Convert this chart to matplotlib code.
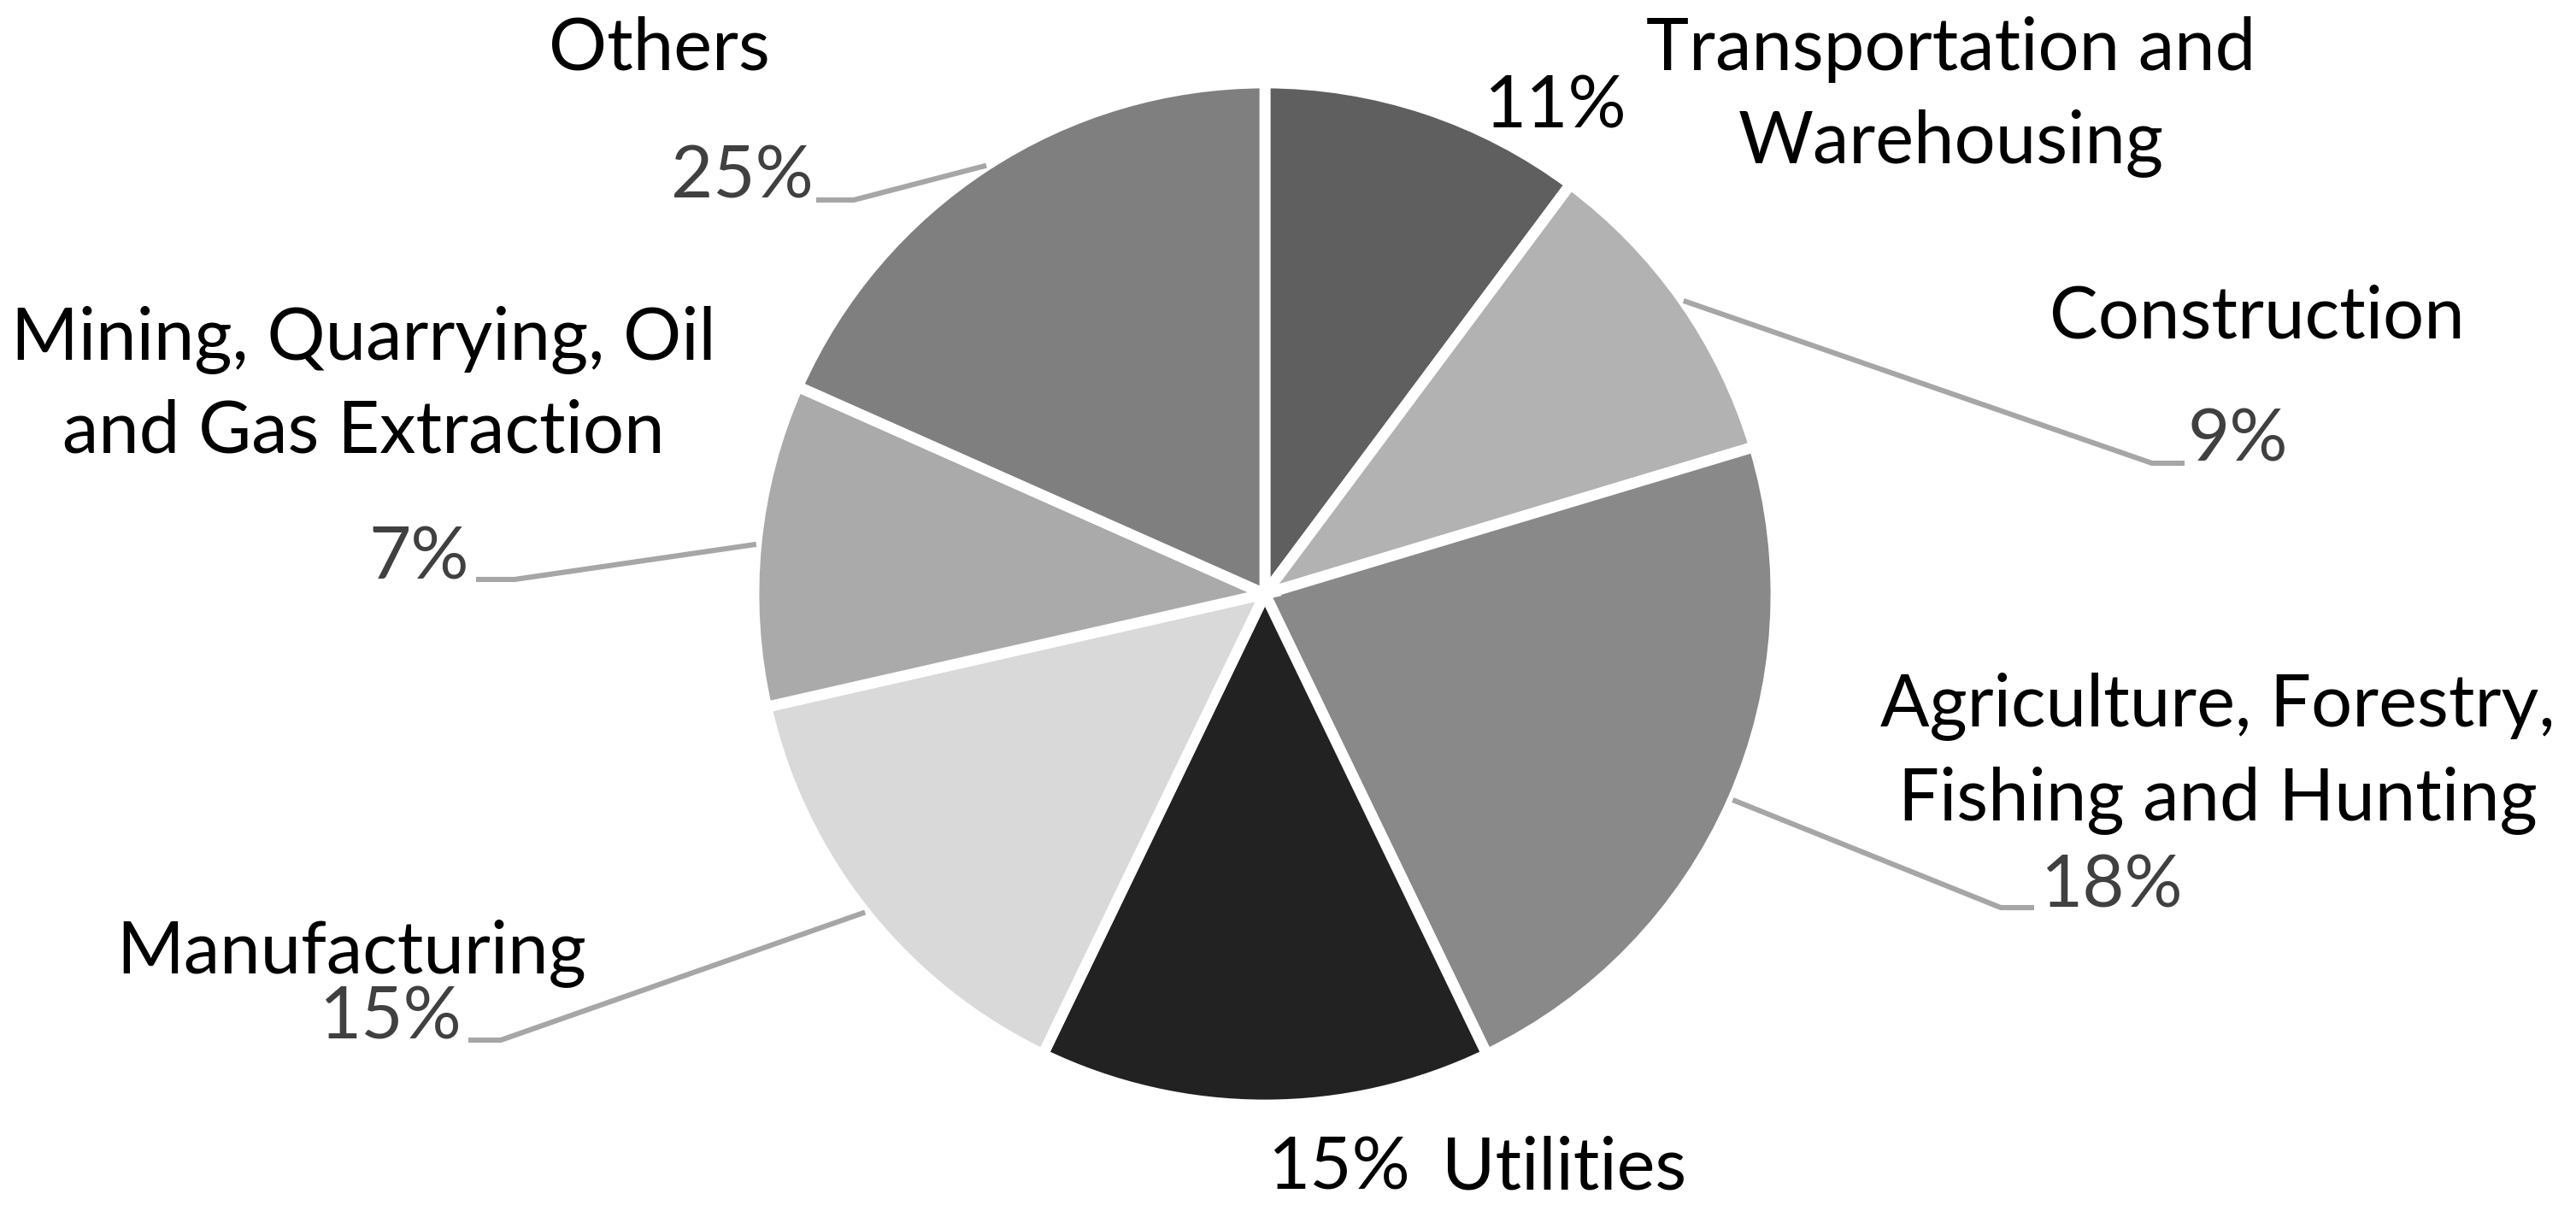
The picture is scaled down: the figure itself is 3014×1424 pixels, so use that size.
import numpy as np
import matplotlib
matplotlib.use("Agg")
import matplotlib.pyplot as plt

plt.rcParams['font.family'] = ['Lato', 'DejaVu Sans']

# ---- data ----
categories = ["Transportation and\nWarehousing", "Construction",
              "Agriculture, Forestry,\nFishing and Hunting", "Utilities",
              "Manufacturing", "Mining, Quarrying, Oil\nand Gas Extraction", "Others"]
slice_sizes = [10.2, 10.15, 22.5, 14.3, 14.3, 10.2, 18.35]   # drawn slice sizes
pct_labels = ["11%", "9%", "18%", "15%", "15%", "7%", "25%"]   # printed labels
colors = ["#5f5f5f", "#b2b2b2", "#898989", "#222222", "#d9d9d9", "#aaaaaa", "#7f7f7f"]

W, H, DPI = 3014, 1424, 200
fig = plt.figure(figsize=(W / DPI, H / DPI), dpi=DPI)
ax = fig.add_axes([0, 0, 1, 1])

def Y(yp):
    return H - yp

cx, cy, R = 1480, Y(695), 598
wedges, _ = ax.pie(slice_sizes, colors=colors, startangle=90, counterclock=False,
                   center=(cx, cy), radius=R,
                   wedgeprops=dict(edgecolor="white", linewidth=4.6))
ax.set_xlim(0, W)
ax.set_ylim(0, H)
ax.set_aspect("equal")
ax.axis("off")

FS = 30.6
LS = 1.47
LC = "#a6a6a6"
PC = "#404040"

def leader(i, elbow, end):
    w = wedges[i]
    mid = np.deg2rad((w.theta1 + w.theta2) / 2)
    sx, sy = cx + R * np.cos(mid), cy + R * np.sin(mid)
    ax.plot([sx, elbow[0], end[0]], [sy, Y(elbow[1]), Y(end[1])],
            color=LC, lw=2.2, solid_capstyle="butt", zorder=1)

# Transportation (no leader)
ax.text(2283, Y(113), categories[0], ha="center", va="center", fontsize=FS,
        color="black", linespacing=LS)
ax.text(1819, Y(125), pct_labels[0], ha="center", va="center", fontsize=FS, color="black")

# Construction
ax.text(2641, Y(371), categories[1], ha="center", va="center", fontsize=FS, color="black")
ax.text(2618, Y(515), pct_labels[1], ha="center", va="center", fontsize=FS, color=PC)
leader(1, (2518, 542), (2556, 542))

# Agriculture
ax.text(2595, Y(881), categories[2], ha="center", va="center", fontsize=FS,
        color="black", linespacing=LS)
ax.text(2470, Y(1038), pct_labels[2], ha="center", va="center", fontsize=FS, color=PC)
leader(2, (2341, 1062), (2380, 1062))

# Utilities
ax.text(1566, Y(1368), pct_labels[3], ha="center", va="center", fontsize=FS, color="black")
ax.text(1830, Y(1368), categories[3], ha="center", va="center", fontsize=FS, color="black")

# Manufacturing
ax.text(411, Y(1115), categories[4], ha="center", va="center", fontsize=FS, color="black")
ax.text(456, Y(1192), pct_labels[4], ha="center", va="center", fontsize=FS, color=PC)
leader(4, (586, 1217), (548, 1217))

# Mining
ax.text(425, Y(451), categories[5], ha="center", va="center", fontsize=FS,
        color="black", linespacing=LS)
ax.text(490, Y(653), pct_labels[5], ha="center", va="center", fontsize=FS, color=PC)
leader(5, (602, 678), (557, 678))

# Others
ax.text(771, Y(58), categories[6], ha="center", va="center", fontsize=FS, color="black")
ax.text(868, Y(208), pct_labels[6], ha="center", va="center", fontsize=FS, color=PC)
leader(6, (999, 234), (955, 234))

fig.savefig("out.png", dpi=DPI, facecolor="white")
